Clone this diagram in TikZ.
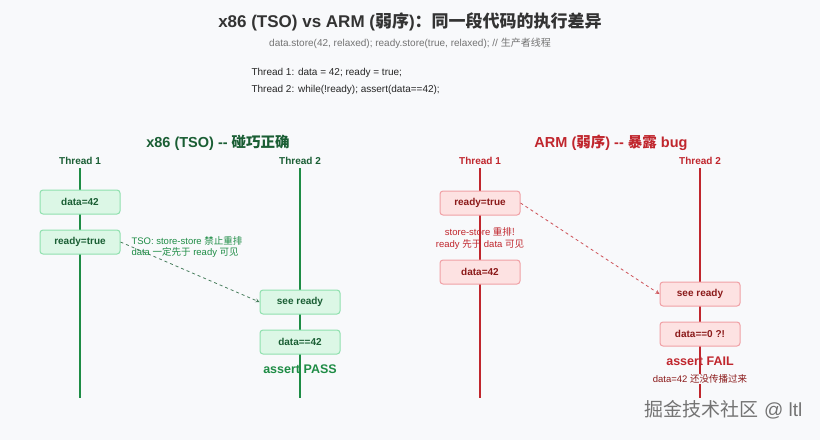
\documentclass[tikz,border=0pt]{standalone}
\usepackage{fontspec}
\setmainfont{Liberation Sans}
\newfontfamily\cjk{Noto Sans CJK SC}
\definecolor{bgc}{HTML}{F8F9FB}
\definecolor{grn}{HTML}{1E8C45}
\definecolor{grnfill}{HTML}{DCF7E6}
\definecolor{grnline}{HTML}{8FE0AE}
\definecolor{grntext}{HTML}{1A5E34}
\definecolor{rd}{HTML}{C0262D}
\definecolor{rdfill}{HTML}{FDE2E2}
\definecolor{rdline}{HTML}{F0A0A5}
\definecolor{rdtext}{HTML}{8B1A1A}
\begin{document}
\begin{tikzpicture}[x=1pt, y=-1pt,
                    gbox/.style = {draw = grnline, fill = grnfill, rounded corners = 3pt, line width = 1pt,
                                   minimum width = 80pt, minimum height = 24pt, font = \fontsize{10}{11}\selectfont\bfseries, text = grntext},
                    rbox/.style = {draw = rdline, fill = rdfill, rounded corners = 3pt, line width = 1pt,
                                   minimum width = 80pt, minimum height = 24pt, font = \fontsize{10}{11}\selectfont\bfseries, text = rdtext},
                    thr/.style = {font = \fontsize{10}{11}\selectfont\bfseries},
                    note/.style = {font = \fontsize{10}{12}\selectfont}]
    \fill [bgc] (0, 0) rectangle (820, 440);
    \node [font = \fontsize{17}{20}\selectfont\bfseries, text = black!80] (title) at (410, 22) {x86 (TSO) vs ARM ({\cjk 弱序}){\cjk ：同一段代码的执行差异}};
    \node [note, text = black!55] (sub) at (410, 43) {data.store(42, relaxed); ready.store(true, relaxed); // {\cjk 生产者线程}};
    \node [note, text = black!85, anchor = west] (code1) at (248, 73) {Thread 1: data = 42; ready = true;};
    \node [note, text = black!85, anchor = west] (code2) at (248, 90) {Thread 2: while(!ready); assert(data==42);};
    % x86
    \node [font = \fontsize{14.5}{16}\selectfont\bfseries, text = grntext] (xhead) at (218, 143) {x86 (TSO) -{}- {\cjk 碰巧正确}};
    \node [thr, text = grntext] (xt1) at (80, 161) {Thread 1};
    \node [thr, text = grntext] (xt2) at (300, 161) {Thread 2};
    \coordinate (xe1) at (80, 398);
    \coordinate (xe2) at (300, 398);
    \draw [grn, line width = 2pt] (xt1) -- (xe1);
    \draw [grn, line width = 2pt] (xt2) -- (xe2);
    \node [gbox] (xdata) at (80, 202) {data=42};
    \node [gbox] (xready) at (80, 242) {ready=true};
    \node [gbox] (xsee) at (300, 302) {see ready};
    \node [gbox] (xcheck) at (300, 342) {data==42};
    \node [font = \fontsize{12.5}{14}\selectfont\bfseries, text = grn] (xpass) at (300, 369) {assert PASS};
    \draw [thick, dashed, grntext!80, ->, >=stealth] (xready.east) -- (xsee.west);
    \node [note, text = grn, anchor = west, align = left, font = \fontsize{9.5}{11.5}\selectfont] (xnote) at (128, 247) {TSO: store-store {\cjk 禁止重排}\\data {\cjk 一定先于} ready {\cjk 可见}};
    % ARM
    \node [font = \fontsize{14.5}{16}\selectfont\bfseries, text = rd] (ahead) at (611, 143) {ARM ({\cjk 弱序}) -{}- {\cjk 暴露} bug};
    \node [thr, text = rd] (at1) at (480, 161) {Thread 1};
    \node [thr, text = rd] (at2) at (700, 161) {Thread 2};
    \coordinate (ae1) at (480, 398);
    \coordinate (ae2) at (700, 398);
    \draw [rd, line width = 2pt] (at1) -- (ae1);
    \draw [rd, line width = 2pt] (at2) -- (ae2);
    \node [rbox] (aready) at (480, 203) {ready=true};
    \node [note, text = rd, align = center, font = \fontsize{9.5}{12}\selectfont] (anote) at (480, 238) {store-store {\cjk 重排!}\\ready {\cjk 先于} data {\cjk 可见}};
    \node [rbox] (adata) at (480, 272) {data=42};
    \node [rbox] (asee) at (700, 294) {see ready};
    \node [rbox] (acheck) at (700, 334) {data==0 ?!};
    \node [font = \fontsize{12.5}{14}\selectfont\bfseries, text = rd] (afail) at (700, 361) {assert FAIL};
    \node [note, text = rdtext, fill = bgc, inner sep = 1pt, font = \fontsize{9.5}{11}\selectfont] (awhy) at (700, 379) {data=42 {\cjk 还没传播过来}};
    \draw [thick, dashed, rd!80, ->, >=stealth] (aready.east) -- (asee.west);
    % watermark
    \node [font = \fontsize{19}{22}\selectfont, text = black!55, anchor = east] (mark) at (806, 410) {{\cjk 掘金技术社区} @ ltl};
\end{tikzpicture}
\end{document}
